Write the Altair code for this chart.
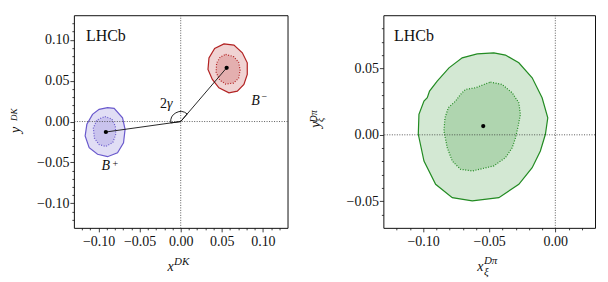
import math
import altair as alt
import pandas as pd

# ---------------- data ----------------
# Left panel: B+ (blue) and B- (red) contours in (x^DK, y^DK)
bp_outer_x = [-0.0891, -0.0810, -0.0708, -0.0677, -0.0696, -0.0769, -0.0891, -0.1012, -0.1114, -0.1163, -0.1142, -0.1073, -0.0993]
bp_outer_y = [0.0169, 0.0161, 0.0046, -0.0095, -0.0259, -0.0381, -0.0430, -0.0400, -0.0320, -0.0177, -0.0034, 0.0088, 0.0149]
bp_inner_x = [-0.0923, -0.0838, -0.0796, -0.0790, -0.0826, -0.0911, -0.0996, -0.1051, -0.1063, -0.1021]
bp_inner_y = [0.0061, 0.0031, -0.0055, -0.0153, -0.0256, -0.0305, -0.0281, -0.0201, -0.0079, 0.0018]
bm_outer_x = [0.0526, 0.0648, 0.0750, 0.0810, 0.0810, 0.0769, 0.0689, 0.0587, 0.0465, 0.0385, 0.0332, 0.0344, 0.0413]
bm_outer_y = [0.0950, 0.0934, 0.0840, 0.0718, 0.0576, 0.0454, 0.0372, 0.0352, 0.0413, 0.0515, 0.0637, 0.0779, 0.0894]
bm_inner_x = [0.0547, 0.0644, 0.0705, 0.0723, 0.0705, 0.0644, 0.0547, 0.0474, 0.0431, 0.0437, 0.0480]
bm_inner_y = [0.0821, 0.0794, 0.0726, 0.0629, 0.0531, 0.0470, 0.0458, 0.0507, 0.0604, 0.0714, 0.0788]
bp_center = (-0.0911, -0.0128)
bm_center = (0.0559, 0.0657)

# Right panel: D pi contours in (x_xi, y_xi)
g_outer_x = [-0.0465, -0.0377, -0.0276, -0.0175, -0.0100, -0.0057, -0.0075, -0.0113, -0.0175, -0.0276, -0.0427, -0.0628,
             -0.0779, -0.0905, -0.0993, -0.1036, -0.1031, -0.0993, -0.0968, -0.0951, -0.0893, -0.0804, -0.0704, -0.0591]
g_outer_y = [0.0617, 0.0600, 0.0542, 0.0429, 0.0279, 0.0128, 0.0004, -0.0122, -0.0247, -0.0372, -0.0473, -0.0497,
             -0.0473, -0.0372, -0.0197, 0.0004, 0.0154, 0.0254, 0.0279, 0.0329, 0.0404, 0.0504, 0.0579, 0.0609]
g_inner_x = [-0.0490, -0.0402, -0.0326, -0.0276, -0.0264, -0.0281, -0.0301, -0.0326, -0.0377, -0.0465, -0.0628,
             -0.0717, -0.0779, -0.0817, -0.0842, -0.0834, -0.0809, -0.0754, -0.0717, -0.0679, -0.0603, -0.0540]
g_inner_y = [0.0397, 0.0379, 0.0316, 0.0241, 0.0154, 0.0066, -0.0022, -0.0097, -0.0172, -0.0234, -0.0272,
             -0.0259, -0.0197, -0.0097, 0.0029, 0.0128, 0.0204, 0.0254, 0.0304, 0.0342, 0.0354, 0.0379]
g_center = (-0.0545, 0.0066)

# axes
left_dom = [-0.13, 0.13]
right_xdom = [-0.13, 0.03]
right_ydom = [-0.07, 0.09]
left_ticks = [-0.12, -0.11, -0.10, -0.09, -0.08, -0.07, -0.06, -0.05, -0.04, -0.03, -0.02, -0.01, 0.0,
              0.01, 0.02, 0.03, 0.04, 0.05, 0.06, 0.07, 0.08, 0.09, 0.10, 0.11, 0.12]
right_xticks = [-0.12, -0.11, -0.10, -0.09, -0.08, -0.07, -0.06, -0.05, -0.04, -0.03, -0.02, -0.01, 0.0,
                0.01, 0.02]
right_yticks = [-0.06, -0.05, -0.04, -0.03, -0.02, -0.01, 0.0, 0.01, 0.02, 0.03, 0.04, 0.05, 0.06,
                0.07, 0.08]

BLUE = "#6a5acd"
RED = "#b22222"
GREEN = "#228b22"
SERIF = "Liberation Serif"


def poly(xs, ys):
    return pd.DataFrame({"x": xs, "y": ys, "o": list(range(len(xs)))})


def axis(values, pad):
    return alt.Axis(
        values=values,
        labelExpr="round(datum.value*100) % 5 == 0 ? format(datum.value, '.2f') : ''",
        tickSize={"condition": {"test": "round(datum.value*100) % 5 == 0", "value": 4}, "value": 2},
        tickColor="#111", tickWidth=0.8, domain=False, grid=False,
        labelFont=SERIF, labelFontSize=14, labelColor="#111", labelPadding=pad,
        labelFlush=False, labelOverlap=False,
    )


def enc(xdom, ydom, xt, yt):
    return dict(
        x=alt.X("x:Q", title=None, scale=alt.Scale(domain=xdom, nice=False, zero=False), axis=axis(xt, 3)),
        y=alt.Y("y:Q", title=None, scale=alt.Scale(domain=ydom, nice=False, zero=False), axis=axis(yt, 1)),
    )


def contour(df, color, e, dashed):
    kw = dict(interpolate="linear-closed", fill=color, fillOpacity=0.2, stroke=color, strokeWidth=1.2)
    if dashed:
        kw["strokeDash"] = [1, 1.6]
    return alt.Chart(df).mark_line(**kw).encode(order="o:Q", **e)


def text_at(df, e, **kw):
    return alt.Chart(df).mark_text(font=SERIF, color="#111", align="left", baseline="alphabetic", **kw).encode(
        text="t:N", **e)


def pix_text(t, px, py, size, italic=True, angle=0):
    kw = dict(font=SERIF, color="#111", align="left", baseline="alphabetic", fontSize=size)
    if italic:
        kw["fontStyle"] = "italic"
    if angle:
        kw["angle"] = angle
    return alt.Chart(pd.DataFrame({"t": [t]})).mark_text(**kw).encode(
        text="t:N", x=alt.value(px), y=alt.value(py))


one = pd.DataFrame({"x": [0.0], "y": [0.0]})

# ---------------- left panel ----------------
eL = enc(left_dom, left_dom, left_ticks, left_ticks)

arms = pd.DataFrame({"x": [bp_center[0], 0.0, bm_center[0]], "y": [bp_center[1], 0.0, bm_center[1]], "o": [0, 1, 2]})
theta_bp = math.atan2(bp_center[0], bp_center[1]) + 2 * math.pi
theta_bm = math.atan2(bm_center[0], bm_center[1]) + 2 * math.pi

pts_left = pd.DataFrame({"x": [bp_center[0], bm_center[0]], "y": [bp_center[1], bm_center[1]]})

lab_main = pd.DataFrame({"x": [-0.1154], "y": [0.0989], "t": ["LHCb"]})
lab_B = pd.DataFrame({"x": [-0.0964, 0.0859], "y": [-0.0592, 0.0201], "t": ["B", "B"]})
lab_sup = pd.DataFrame({"x": [-0.0830, 0.0984], "y": [-0.0556, 0.0262], "t": ["+", "\u2212"]})
lab_2 = pd.DataFrame({"x": [-0.0251], "y": [0.0165], "t": ["2"]})
lab_g = pd.DataFrame({"x": [-0.0166], "y": [0.0165], "t": ["\u03b3"]})

left = alt.layer(
    contour(poly(bp_outer_x, bp_outer_y), BLUE, eL, False),
    contour(poly(bp_inner_x, bp_inner_y), BLUE, eL, True),
    contour(poly(bm_outer_x, bm_outer_y), RED, eL, False),
    contour(poly(bm_inner_x, bm_inner_y), RED, eL, True),
    alt.Chart(one).mark_rule(color="#333", strokeWidth=0.8, strokeDash=[1, 1.5]).encode(x=eL["x"]),
    alt.Chart(one).mark_rule(color="#333", strokeWidth=0.8, strokeDash=[1, 1.5]).encode(y=eL["y"]),
    alt.Chart(arms).mark_line(color="#111", strokeWidth=0.9).encode(order="o:Q", **eL),
    alt.Chart(one).mark_arc(radius=10, theta=theta_bp, theta2=theta_bm, fillOpacity=0,
                            stroke="#111", strokeWidth=0.9).encode(**eL),
    alt.Chart(pts_left).mark_point(filled=True, color="#000", size=18, opacity=1).encode(**eL),
    text_at(lab_main, eL, fontSize=16),
    text_at(lab_B, eL, fontSize=14, fontStyle="italic"),
    text_at(lab_sup, eL, fontSize=10),
    text_at(lab_2, eL, fontSize=14),
    text_at(lab_g, eL, fontSize=14, fontStyle="italic"),
    pix_text("x", 93.7, 256, 14),
    pix_text("DK", 100.3, 250, 11),
    pix_text("y", -54, 118, 14, angle=270),
    pix_text("DK", -57, 106, 9, angle=270),
).properties(width=214, height=213)

# ---------------- right panel ----------------
eR = enc(right_xdom, right_ydom, right_xticks, right_yticks)
pts_right = pd.DataFrame({"x": [g_center[0]], "y": [g_center[1]]})
lab_R = pd.DataFrame({"x": [-0.1219], "y": [0.0705], "t": ["LHCb"]})

right = alt.layer(
    contour(poly(g_outer_x, g_outer_y), GREEN, eR, False),
    contour(poly(g_inner_x, g_inner_y), GREEN, eR, True),
    alt.Chart(one).mark_rule(color="#333", strokeWidth=0.8, strokeDash=[1, 1.5]).encode(x=eR["x"]),
    alt.Chart(one).mark_rule(color="#333", strokeWidth=0.8, strokeDash=[1, 1.5]).encode(y=eR["y"]),
    alt.Chart(pts_right).mark_point(filled=True, color="#000", size=18, opacity=1).encode(**eR),
    text_at(lab_R, eR, fontSize=16),
    pix_text("x", 94, 256, 14),
    pix_text("D\u03c0", 100.7, 249, 11),
    pix_text("\u03be", 100.7, 260, 11),
    pix_text("y", -63, 112.7, 14, angle=270),
    pix_text("D\u03c0", -66, 107.5, 10, angle=270),
    pix_text("\u03be", -60, 107, 10, angle=270),
).properties(width=212, height=213)

chart = alt.hconcat(left, right, spacing=20).properties(
    padding={"left": 0, "top": 6, "right": 4, "bottom": 2},
    background="white",
).configure_view(stroke="#111", strokeWidth=1)

chart.save("out.html", embed_options={"renderer": "svg", "actions": False})
